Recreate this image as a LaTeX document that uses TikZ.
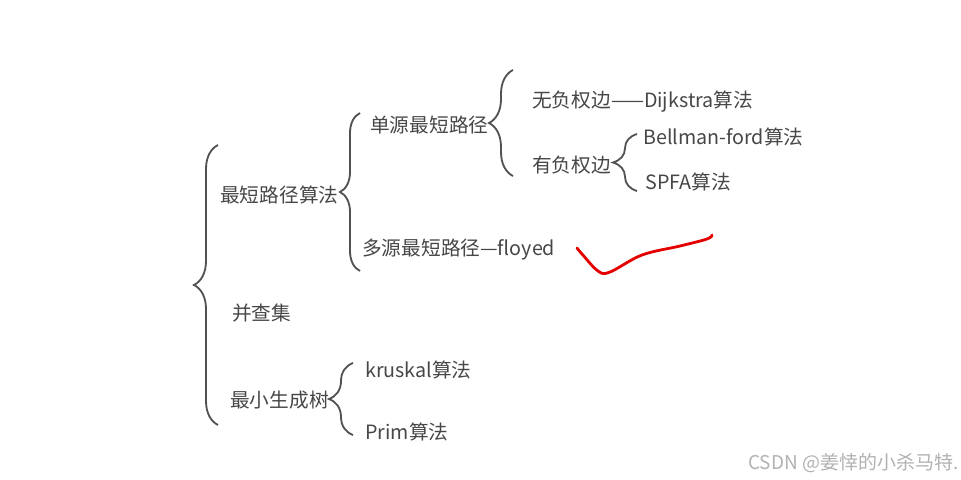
\documentclass[tikz,border=0pt]{standalone}
\usepackage{fontspec}
\setmainfont{Noto Sans CJK SC}
\usepackage{xcolor}
\usetikzlibrary{decorations.pathreplacing}

\begin{document}
\begin{tikzpicture}[
            x=0.25mm, y=-0.25mm,
            item/.style={anchor=west, inner sep=0pt, text=black!72, font=\fontsize{14}{16}\selectfont},
            grp/.style={decorate, decoration={brace, amplitude=#1}, draw=black!68, line width=1.3pt},
            grp/.default=6mm,
            scribble/.style={draw=red!90!black, line width=2pt, line cap=round, line join=round}
        ]
        \useasboundingbox[fill=white] (0,0) rectangle (961,480);

        % Root brace
        \coordinate (b0-top) at (218,145);
        \coordinate (b0-bot) at (218,425);
        \draw[grp] (b0-bot) -- (b0-top);

        % First level
        \node[item] (sp) at (220,195) {最短路径算法};
        \node[item] (uf) at (232,313) {并查集};
        \node[item] (mst) at (230,400) {最小生成树};

        % Shortest path
        \coordinate (b1-top) at (360,113);
        \coordinate (b1-bot) at (360,271);
        \draw[grp=5mm] (b1-bot) -- (b1-top);
        \node[item] (single) at (370,125) {单源最短路径};
        \node[item] (multi) at (362,250) {多源最短路径—floyed};

        % Single source
        \coordinate (b2-top) at (513,70);
        \coordinate (b2-bot) at (513,176);
        \draw[grp] (b2-bot) -- (b2-top);
        \node[item] (nonneg) at (532,102) {无负权边——Dijkstra算法};
        \node[item] (neg) at (532,165) {有负权边};

        % Negative weights
        \coordinate (b3-top) at (637,134);
        \coordinate (b3-bot) at (637,191);
        \draw[grp] (b3-bot) -- (b3-top);
        \node[item] (bf) at (643,137) {Bellman-ford算法};
        \node[item] (spfa) at (645,182) {SPFA算法};

        % Spanning tree
        \coordinate (b4-top) at (353,363);
        \coordinate (b4-bot) at (353,435);
        \draw[grp] (b4-bot) -- (b4-top);
        \node[item] (kruskal) at (365,370) {kruskal算法};
        \node[item] (prim) at (365,432) {Prim算法};

        % Red mark
        \draw[scribble] plot[smooth, tension=0.6] coordinates {(577,248) (582,254) (598,271) (610,272) (642,255) (680,246) (707,239) (712,235)};

        % Watermark
        \node[anchor=west, inner sep=0pt, text=black!30, font=\fontsize{13.5}{15}\selectfont] (wm) at (748,463) {CSDN @姜悻的小杀马特.};

        \end{tikzpicture}
\end{document}
